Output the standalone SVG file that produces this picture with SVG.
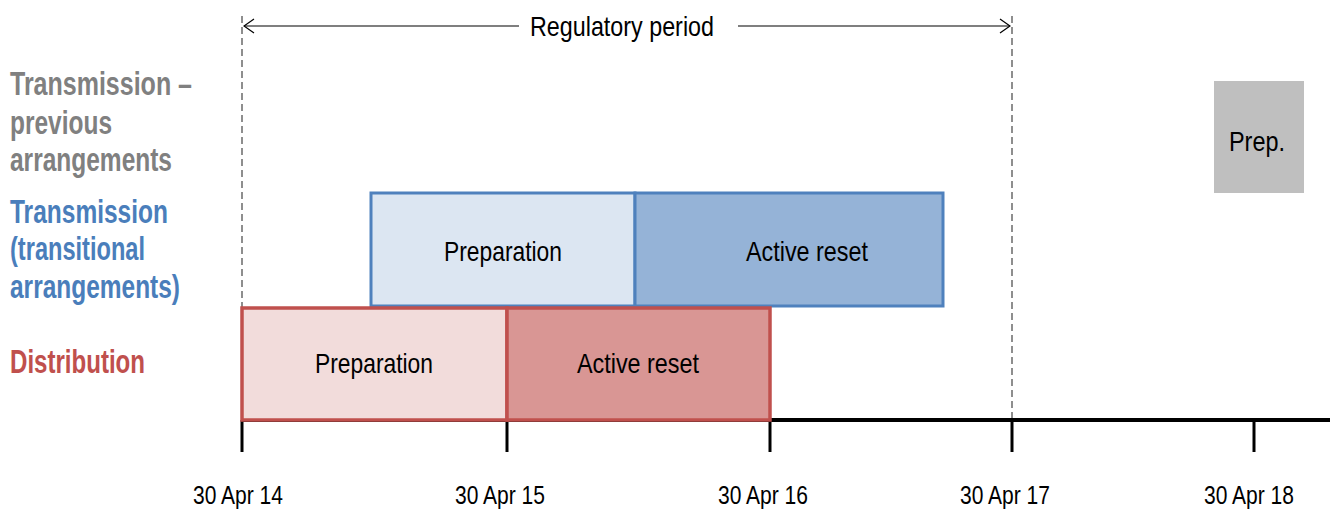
<svg xmlns="http://www.w3.org/2000/svg" width="1330" height="509" viewBox="0 0 1330 509">
<style>
.lbl{font-family:"Liberation Sans Narrow","Liberation Sans",Arial,sans-serif;font-weight:bold;font-size:33px}
.gray{fill:#808080}.blue{fill:#4A7EBB}.red{fill:#C0504D}
.bt{font-family:"Liberation Sans Narrow","Liberation Sans",Arial,sans-serif;font-size:28px;fill:#000}
.dt{font-family:"Liberation Sans Narrow","Liberation Sans",Arial,sans-serif;font-size:25px;fill:#000}
.rbox{stroke:#C0504D;stroke-width:3.5}
.bbox{stroke:#4F81BD;stroke-width:3}
.dash{stroke:#444;stroke-width:1.2;stroke-dasharray:7 4;fill:none}
.tick{stroke:#000;stroke-width:3}
</style>
<defs>
<marker id="open" viewBox="0 0 12 16" refX="11" refY="8" markerWidth="12" markerHeight="16" markerUnits="userSpaceOnUse" orient="auto-start-reverse">
<path d="M1 1 L11 8 L1 15" fill="none" stroke="#000" stroke-width="1.2"/>
</marker>
</defs>
<g id="labels">
<text class="lbl gray" x="10" y="95" textLength="182" lengthAdjust="spacingAndGlyphs">Transmission –</text>
<text class="lbl gray" x="10" y="134" textLength="102" lengthAdjust="spacingAndGlyphs">previous</text>
<text class="lbl gray" x="10" y="171" textLength="162" lengthAdjust="spacingAndGlyphs">arrangements</text>
<text class="lbl blue" x="10" y="223" textLength="158" lengthAdjust="spacingAndGlyphs">Transmission</text>
<text class="lbl blue" x="10" y="260" textLength="135" lengthAdjust="spacingAndGlyphs">(transitional</text>
<text class="lbl blue" x="10" y="298" textLength="170" lengthAdjust="spacingAndGlyphs">arrangements)</text>
<text class="lbl red" x="10" y="373" textLength="135" lengthAdjust="spacingAndGlyphs">Distribution</text>
</g>
<g id="connectors">
<line class="dash" x1="242" y1="16" x2="242" y2="308"/>
<line class="dash" x1="1012" y1="16" x2="1012" y2="420"/>
<line x1="244" y1="26" x2="519" y2="26" stroke="#000" stroke-width="1.2" marker-start="url(#open)"/>
<line x1="738" y1="26" x2="1010" y2="26" stroke="#000" stroke-width="1.2" marker-end="url(#open)"/>
<line x1="242" y1="420" x2="1330" y2="420" stroke="#000" stroke-width="4"/>
<line class="tick" x1="242" y1="420" x2="242" y2="452"/>
<line class="tick" x1="507" y1="420" x2="507" y2="452"/>
<line class="tick" x1="770" y1="420" x2="770" y2="452"/>
<line class="tick" x1="1012" y1="420" x2="1012" y2="452"/>
<line class="tick" x1="1254" y1="420" x2="1254" y2="452"/>
</g>
<g id="regulatory-period">
<text x="622" y="36" text-anchor="middle" class="dt" textLength="184" lengthAdjust="spacingAndGlyphs" style="font-size:28px">Regulatory period</text>
</g>
<g id="trans-prep">
<rect class="bbox" x="371" y="193" width="264" height="113" fill="#DCE6F2"/>
<text class="bt" x="503" y="261" text-anchor="middle" textLength="118" lengthAdjust="spacingAndGlyphs">Preparation</text>
</g>
<g id="trans-active">
<rect class="bbox" x="635" y="193" width="308" height="113" fill="#95B3D7"/>
<text class="bt" x="807" y="261" text-anchor="middle" textLength="122" lengthAdjust="spacingAndGlyphs">Active reset</text>
</g>
<g id="dist-prep">
<rect class="rbox" x="242" y="308" width="265" height="112" fill="#F2DCDB"/>
<text class="bt" x="374" y="373" text-anchor="middle" textLength="118" lengthAdjust="spacingAndGlyphs">Preparation</text>
</g>
<g id="dist-active">
<rect class="rbox" x="507" y="308" width="263" height="112" fill="#D99694"/>
<text class="bt" x="638" y="373" text-anchor="middle" textLength="122" lengthAdjust="spacingAndGlyphs">Active reset</text>
</g>
<g id="prev-prep">
<rect x="1214" y="81" width="90" height="112" fill="#BFBFBF"/>
<text class="bt" x="1257" y="151" text-anchor="middle" textLength="56" lengthAdjust="spacingAndGlyphs">Prep.</text>
</g>
<g id="dates">
<text class="dt" x="238" y="504" text-anchor="middle" textLength="90" lengthAdjust="spacingAndGlyphs">30 Apr 14</text>
<text class="dt" x="500" y="504" text-anchor="middle" textLength="90" lengthAdjust="spacingAndGlyphs">30 Apr 15</text>
<text class="dt" x="763" y="504" text-anchor="middle" textLength="90" lengthAdjust="spacingAndGlyphs">30 Apr 16</text>
<text class="dt" x="1005" y="504" text-anchor="middle" textLength="90" lengthAdjust="spacingAndGlyphs">30 Apr 17</text>
<text class="dt" x="1249" y="504" text-anchor="middle" textLength="90" lengthAdjust="spacingAndGlyphs">30 Apr 18</text>
</g>
</svg>
